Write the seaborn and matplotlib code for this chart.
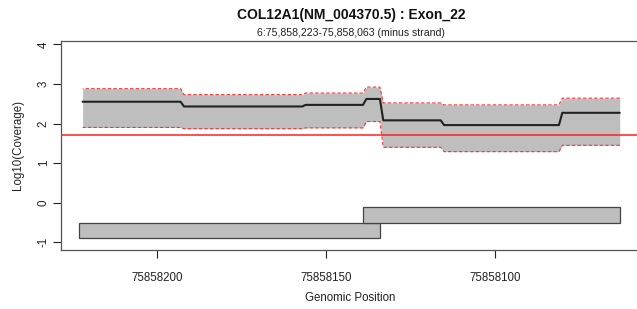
import numpy as np
import pandas as pd
import matplotlib
matplotlib.use("Agg")
import matplotlib.pyplot as plt
import seaborn as sns

sns.set_style("white")
plt.rcParams['font.family'] = ['Liberation Sans', 'DejaVu Sans']

# ---- data ----
BASE = 75858000
positions = [222, 193, 192, 157, 156, 139, 138, 134, 133, 116, 115, 81, 80, 63]
mean_cov = [2.55, 2.55, 2.43, 2.43, 2.47, 2.47, 2.62, 2.62, 2.08, 2.08, 1.96, 1.96, 2.27, 2.27]
upper_cov = [2.88, 2.88, 2.73, 2.73, 2.77, 2.77, 2.92, 2.92, 2.52, 2.52, 2.47, 2.47, 2.64, 2.64]
lower_cov = [1.90, 1.90, 1.87, 1.87, 1.89, 1.89, 2.05, 2.05, 1.40, 1.40, 1.29, 1.29, 1.45, 1.45]
threshold = 50
amp_start = [223, 139]
amp_end = [134, 63]
amp_bottom = [-0.9, -0.5]
amp_top = [-0.5, -0.1]
x_ticks = [75858200, 75858150, 75858100]
y_ticks = [-1, 0, 1, 2, 3, 4]
title = "COL12A1(NM_004370.5) : Exon_22"
subtitle = "6:75,858,223-75,858,063 (minus strand)"

df = pd.DataFrame({
    "pos": np.array(positions) + BASE,
    "mean": mean_cov,
    "upper": upper_cov,
    "lower": lower_cov,
})

W, H = 637, 309
fig = plt.figure(figsize=(W / 100, H / 100), dpi=100)
left, right, top, bottom = 61, 640, 40.5, 250
ax = fig.add_axes([left / W, (H - bottom) / H, (right - left) / W, (bottom - top) / H])

ax.fill_between(df["pos"], df["lower"], df["upper"], color="#BEBEBE", lw=0, zorder=1)
sns.lineplot(data=df, x="pos", y="upper", ax=ax, color="#FF3030", lw=0.8,
             linestyle=(0, (3, 2)), estimator=None, zorder=2)
sns.lineplot(data=df, x="pos", y="lower", ax=ax, color="#FF3030", lw=0.8,
             linestyle=(0, (3, 2)), estimator=None, zorder=2)
sns.lineplot(data=df, x="pos", y="mean", ax=ax, color="#222222", lw=1.5,
             estimator=None, zorder=3)
ax.axhline(np.log10(threshold), color="#FF2020", lw=1.1, zorder=4)

for s, e, b, t in zip(amp_start, amp_end, amp_bottom, amp_top):
    ax.bar(x=(s + BASE + e + BASE) / 2, height=t - b, width=abs(s - e), bottom=b,
           color="#BEBEBE", edgecolor="#444444", linewidth=0.9, zorder=2)

ax.set_xlim(BASE + 228.4, BASE + 57.0)
ax.set_ylim(-1.194, 4.096)
ax.set_xticks(x_ticks)
ax.set_xticklabels([str(t) for t in x_ticks])
ax.set_yticks(y_ticks)
ax.set_yticklabels([str(t) for t in y_ticks], rotation=90, va="center")
ax.tick_params(axis="both", labelsize=8.3, colors="#222222", length=5.5, width=0.8,
               direction="out", bottom=True, left=True)
ax.tick_params(axis="x", pad=10.5)
ax.tick_params(axis="y", pad=2.5)
for sp in ax.spines.values():
    sp.set_color("#555555")
    sp.set_linewidth(0.9)

ax.set_xlabel("Genomic Position", fontsize=8.3, color="#222222", labelpad=5.5)
ax.set_ylabel("Log10(Coverage)", fontsize=8.3, color="#222222", labelpad=10)

fig.text(351 / W, 1 - 14.5 / H, title, ha="center", va="center", fontsize=10,
         fontweight="bold", color="#111111")
fig.text(351 / W, 1 - 33.5 / H, subtitle, ha="center", va="center", fontsize=7.6,
         color="#222222")

fig.savefig("out.png", dpi=100)
